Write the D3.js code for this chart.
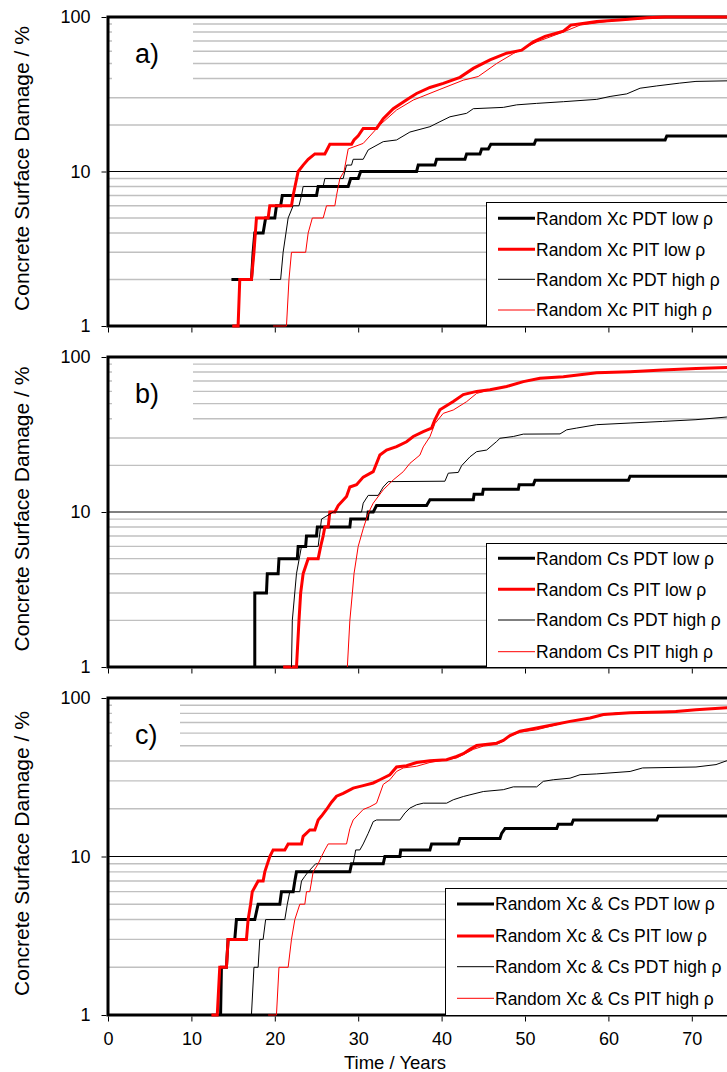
<!DOCTYPE html>
<html>
<head>
<meta charset="utf-8">
<script src="https://cdn.jsdelivr.net/npm/d3@7"></script>
<style>
  html, body { margin: 0; padding: 0; background: #fff; }
  svg { display: block; font-family: "Liberation Sans", Arial, sans-serif; }
</style>
</head>
<body>
<svg id="chart" width="727" height="1072"></svg>
<script>
// ---- Panel a: random cover depth (Xc) ----
const xcPdtLow = [[14.8,2],[17.2,2],[17.4,3],[17.6,4],[18.6,4],[18.9,5],[20.0,5],[20.2,6],[20.7,6],[20.9,7],[25.0,7],[25.2,8],[28.8,8],[29.1,9],[30.0,9],[30.3,10],[37.0,10],[37.2,11],[39.2,11],[39.4,12],[42.8,12],[43.0,13],[44.6,13],[44.8,14],[45.6,14],[45.9,15],[51.1,15],[51.3,16],[66.8,16],[67.0,17],[80,17]];
const xcPitLow = [[14.9,1],[15.6,1],[15.8,2],[17.2,2],[17.5,3],[17.8,5],[19.2,5],[19.4,6],[22.0,6],[22.2,7],[22.8,10],[23.4,11],[24.0,12],[24.8,13],[26.0,13],[26.6,15],[29.2,15],[29.5,16],[30.0,17],[30.6,19],[32.2,19],[33.0,22],[34.2,25.5],[36.0,29.6],[37.0,32],[38.6,35],[40.2,37.2],[42.2,40.7],[43.8,46.5],[45.8,52.7],[47.8,58.3],[49.6,61],[51.0,69],[52.4,75],[54.6,81],[55.5,88.6],[58.6,93.5],[61.3,95.6],[64.6,99],[66.7,100],[80,100]];
const xcPdtHigh = [[19.4,2],[20.7,2],[21.0,3],[21.6,5],[22.2,6],[22.9,6],[23.2,7],[23.4,8],[25.8,8],[26.0,9],[28.2,9],[28.4,10],[28.6,11],[29.2,11],[29.4,12],[30.6,12],[31.2,13.8],[33.0,15.6],[34.6,16],[36.2,18],[38.6,19.5],[39.8,21],[41.0,22.6],[43.0,23.8],[43.8,25.5],[47.4,26],[49.0,27],[51.4,27.6],[54.6,28.3],[58.6,29.3],[60.2,30.6],[62.2,31.8],[63.8,34.6],[65.8,35.8],[68.5,37.3],[70.5,38.3],[74.1,38.6],[80,39]];
const xcPitHigh = [[19.8,1],[21.4,1],[21.7,2],[22.0,3],[23.7,3],[24.0,4],[24.5,5],[25.8,5],[26.2,6],[27.2,6],[27.4,7],[27.8,9],[28.3,10],[28.8,14],[30.6,15.2],[32.6,20],[34.6,25],[36.6,29],[39.8,34],[42.6,39],[44.4,41.2],[46.6,50],[48.6,58],[51.4,69],[54.6,80],[56.6,88.6],[60.6,94.7],[64.6,98],[68.6,100],[80,100]];

// ---- Panel b: random surface chloride (Cs) ----
const csPdtLow = [[17.6,1],[17.6,3],[19.0,3],[19.1,4],[20.4,4],[20.5,5],[22.7,5],[22.8,6],[23.7,6],[23.8,7],[25.0,7],[25.1,8],[29.0,8],[29.1,9],[31.1,9],[31.2,10],[31.8,10],[32.2,11],[38.2,11],[38.6,12],[43.8,12],[43.9,13],[44.9,13],[45.0,14],[49.2,14],[49.3,15],[51.0,15],[51.2,16],[62.4,16],[62.6,17],[80,17]];
const csPitLow = [[21.0,1],[22.6,1],[22.9,2],[23.1,3],[23.4,4],[24.0,5],[25.2,5],[25.5,6],[25.8,7],[26.0,8],[26.4,8],[26.6,10],[27.2,10],[27.6,11],[28.6,12.6],[29.0,14.5],[29.8,15],[30.6,16.8],[31.8,18.2],[32.6,23.3],[33.4,25.1],[34.6,26.4],[35.8,28.4],[36.6,30.7],[37.8,33],[38.8,34.8],[39.2,39.4],[39.8,45.7],[41.4,51.7],[42.6,57.2],[44.2,60],[45.8,61.5],[47.8,64.5],[49.8,69.4],[51.8,72.9],[54.6,74.7],[58.6,79.2],[62.6,80.4],[66.5,82.4],[70.5,84.4],[74.2,85.6],[80,86.5]];
const csPdtHigh = [[22.0,1],[22.1,2],[22.6,4],[23.2,6],[25.2,6],[25.6,9],[27.0,10],[30.4,10],[30.6,11.4],[31.2,12.8],[32.4,12.8],[33.0,14.5],[33.6,15.7],[40.4,15.8],[40.8,17.8],[42.0,18],[42.4,19.9],[43.4,22.7],[44.2,24.5],[45.4,25.1],[46.6,28.5],[47.0,29.9],[48.6,30.7],[49.8,31.8],[54.2,31.9],[55.0,33.9],[56.2,34.8],[58.6,36.6],[62.6,37.5],[66.5,38.4],[70.5,39.4],[74.2,41],[80,42]];
const csPitHigh = [[28.7,1],[29.0,2],[29.3,3],[29.5,4],[30.0,6],[30.6,7.8],[31.2,9.8],[31.8,11.4],[33.0,13.9],[34.2,16.1],[35.4,18.2],[36.2,20.6],[37.4,23.3],[37.8,26.3],[38.6,30.6],[39.2,37.2],[40.2,43.3],[41.4,45.5],[43.0,51.5],[44.2,58.2],[45.8,61.5],[47.8,64.3],[49.8,69.2],[51.8,72.7],[54.6,74.5],[58.6,79],[62.6,80.3],[66.5,82.3],[70.5,84.3],[74.2,85.5],[80,86.4]];

// ---- Panel c: random Xc and Cs together ----
const xcCsPdtLow = [[13.5,1],[13.6,2],[14.2,2],[14.4,3],[15.2,3],[15.4,4],[17.6,4],[18.0,5],[20.6,5],[20.8,6],[22.2,6],[22.4,7],[22.6,8],[29.0,8],[29.2,9],[33.0,9],[33.2,10],[35.0,10],[35.1,11],[38.6,11],[38.8,12],[42.0,12],[42.2,13],[47.0,13],[47.2,14],[47.6,15],[53.8,15],[54.0,16],[55.6,16],[55.8,17],[65.8,17],[66.0,18],[80,18]];
const xcCsPitLow = [[12.4,1],[13.1,1],[13.4,2],[14.2,2],[14.4,3],[16.6,3],[16.8,4],[17.1,5],[17.3,6],[18.0,7],[18.6,7],[18.8,8],[19.4,10],[19.8,11],[21.2,11],[21.6,12],[23.2,12],[23.4,13.4],[24.2,14.7],[24.8,14.7],[25.2,17],[25.6,18],[26.2,19.8],[26.8,22],[27.4,24],[28.2,25],[29.4,27],[30.6,28],[31.8,29.1],[32.6,30.5],[33.8,32.8],[34.6,36.7],[35.8,37.4],[37.0,39.2],[38.6,40.2],[40.6,40.8],[41.8,42.8],[42.6,44.5],[43.4,47.4],[44.2,50.1],[46.6,51.9],[47.4,54],[48.2,58],[49.4,61.7],[51.4,64.6],[53.4,67.8],[55.4,71.2],[57.8,74.8],[59.4,78.6],[62.6,80.6],[66.5,81.5],[68.1,82.1],[70.5,84.3],[74.2,86.9],[80,88]];
const xcCsPdtHigh = [[17.2,1],[17.5,2],[18.0,2],[18.2,3],[18.6,3],[18.9,4],[21.2,4],[21.5,5],[21.8,6],[23.0,6],[23.2,7],[23.6,7.5],[24.0,8],[24.9,9],[29.4,9],[29.7,11],[30.2,11],[30.6,12],[31.2,14],[31.8,16.6],[32.2,17],[35.0,17],[35.6,18.8],[36.2,20.2],[37.0,21.2],[37.8,21.7],[40.6,21.7],[41.4,22.8],[42.6,23.9],[43.4,24.5],[45.0,25.7],[47.4,26.4],[48.6,27.5],[51.4,27.5],[52.2,29.8],[53.4,30.5],[55.4,31.2],[56.6,32.8],[58.6,33.2],[62.6,34.4],[64.1,36.2],[70.5,36.7],[72.9,38],[74.2,40.2],[80,41]];
const xcCsPitHigh = [[19.2,1],[20.2,1],[20.5,2],[21.6,2],[22.0,3],[22.4,4],[23.0,5],[23.6,5],[23.8,6],[24.2,6],[24.6,8],[25.2,9],[25.6,10],[26.0,11],[26.4,12],[28.6,12],[29.0,15],[29.4,17],[30.6,19.8],[31.4,20.6],[32.2,21.7],[33.0,28.5],[33.8,30.5],[34.6,34.4],[35.4,36.2],[37.0,37.1],[38.6,39.2],[40.6,40.8],[41.8,41.8],[42.6,43.9],[43.8,47.4],[45.0,49.7],[46.6,50.9],[47.4,53.4],[48.2,57.4],[49.4,60.9],[51.4,63],[53.0,66.2],[55.4,71.2],[58.6,76.6],[61.0,80.6],[66.5,81.5],[70.5,84.3],[74.2,86.9],[80,88]];

// ---- Legend labels ----
const labelsA = ["Random Xc PDT low ρ", "Random Xc PIT low ρ", "Random Xc PDT high ρ", "Random Xc PIT high ρ"];
const labelsB = ["Random Cs PDT low ρ", "Random Cs PIT low ρ", "Random Cs PDT high ρ", "Random Cs PIT high ρ"];
const labelsC = ["Random Xc & Cs PDT low ρ", "Random Xc & Cs PIT low ρ", "Random Xc & Cs PDT high ρ", "Random Xc & Cs PIT high ρ"];
const panelTags = ["a)", "b)", "c)"];

// ---- Axis ticks ----
const yearTicks = [0, 10, 20, 30, 40, 50, 60, 70];
const damageTicks = [1, 10, 100];
const minorGrid = [2, 3, 4, 5, 6, 7, 8, 9, 20, 30, 40, 50, 60, 70, 80, 90];

// ---- Layout and styling ----
const seriesStyle = [
  { color: "#000000", width: 3 },
  { color: "#ff0000", width: 3 },
  { color: "#000000", width: 1 },
  { color: "#ff0000", width: 1 }
];
const panels = [
  { tag: panelTags[0], top: 17,  bottom: 326,  series: [xcPdtLow, xcPitLow, xcPdtHigh, xcPitHigh], labels: labelsA,
    legendX: 486, legendTop: 202, rows: [218.3, 249.3, 279.3, 310], boxRight: 193, boxBottom: 86, tickLabels: false },
  { tag: panelTags[1], top: 357, bottom: 667,  series: [csPdtLow, csPitLow, csPdtHigh, csPitHigh], labels: labelsB,
    legendX: 486, legendTop: 543, rows: [558.3, 589.3, 620, 651.7], boxRight: 193, boxBottom: 426, tickLabels: false },
  { tag: panelTags[2], top: 698, bottom: 1015, series: [xcCsPdtLow, xcCsPitLow, xcCsPdtHigh, xcCsPitHigh], labels: labelsC,
    legendX: 445, legendTop: 888, rows: [904, 936, 966.7, 998.3], boxRight: 180, boxBottom: 752, tickLabels: true }
];

const svg = d3.select("#chart");
const x = d3.scaleLinear().domain([0, 80]).range([108, 108 + 8.34 * 80]);

panels.forEach((p, pi) => {
  const y = d3.scaleLog().domain([1, 100]).range([p.bottom, p.top]);
  const g = svg.append("g");

  // horizontal grid
  g.selectAll("line.minor").data(minorGrid).join("line")
    .attr("x1", x(0)).attr("x2", x(80))
    .attr("y1", d => y(d)).attr("y2", d => y(d))
    .attr("stroke", "#c0c0c0").attr("stroke-width", 1.4);
  g.append("line")
    .attr("x1", x(0)).attr("x2", x(80))
    .attr("y1", y(10)).attr("y2", y(10))
    .attr("stroke", "#000").attr("stroke-width", 1);

  // panel tag box
  g.append("rect")
    .attr("x", 112).attr("y", p.top + 1)
    .attr("width", p.boxRight - 112).attr("height", p.boxBottom - p.top - 1)
    .attr("fill", "#fff");
  g.append("text")
    .attr("x", 135).attr("y", p.top + 46)
    .attr("font-size", 27).attr("fill", "#000")
    .text(p.tag);

  // axes
  const yAxis = d3.axisLeft(y).tickValues(damageTicks).tickFormat(d3.format("d"))
    .tickSize(5).tickPadding(11);
  const ya = g.append("g").attr("transform", `translate(${x(0) - 1.5},0)`).call(yAxis);
  ya.select(".domain").remove();
  ya.selectAll("text").attr("font-size", 18).attr("fill", "#000")
    .attr("font-family", "Liberation Sans, Arial, sans-serif");
  ya.selectAll("line").attr("stroke", "#000");

  const xAxis = d3.axisBottom(x).tickValues(yearTicks)
    .tickFormat(p.tickLabels ? d3.format("d") : () => "")
    .tickSize(5).tickPadding(11);
  const xa = g.append("g").attr("transform", `translate(0,${p.bottom + 1.5})`).call(xAxis);
  xa.select(".domain").remove();
  xa.selectAll("text").attr("font-size", 18).attr("fill", "#000")
    .attr("font-family", "Liberation Sans, Arial, sans-serif");
  xa.selectAll("line").attr("stroke", "#000");

  // plot frame
  g.append("rect")
    .attr("x", x(0)).attr("y", p.top)
    .attr("width", x(80) - x(0)).attr("height", p.bottom - p.top)
    .attr("fill", "none").attr("stroke", "#000").attr("stroke-width", 3);

  // y axis title
  g.append("text")
    .attr("transform", `translate(28.5,${(p.top + p.bottom) / 2 - 3}) rotate(-90)`)
    .attr("text-anchor", "middle").attr("font-size", 21).attr("fill", "#000")
    .text("Concrete Surface Damage / %");

  // legend box
  const lg = g.append("g");
  lg.append("rect")
    .attr("x", p.legendX + 0.5).attr("y", p.legendTop + 0.5)
    .attr("width", 760 - p.legendX).attr("height", p.bottom - p.legendTop)
    .attr("fill", "#fff").attr("stroke", "#000").attr("stroke-width", 1);
  p.labels.forEach((lab, i) => {
    const st = seriesStyle[i];
    lg.append("line")
      .attr("x1", p.legendX + 12).attr("x2", p.legendX + 49)
      .attr("y1", p.rows[i]).attr("y2", p.rows[i])
      .attr("stroke", st.color).attr("stroke-width", st.width);
    lg.append("text")
      .attr("x", p.legendX + 50).attr("y", p.rows[i] + 6.3)
      .attr("font-size", 17.5).attr("fill", "#000")
      .text(lab);
  });

  // damage curves
  const clipId = "clip" + pi;
  svg.append("clipPath").attr("id", clipId).append("rect")
    .attr("x", x(0)).attr("y", p.top - 3)
    .attr("width", x(80) - x(0)).attr("height", p.bottom - p.top + 6);
  const line = d3.line().x(d => x(d[0])).y(d => y(d[1]));
  const cg = g.append("g").attr("clip-path", `url(#${clipId})`);
  p.series.forEach((s, i) => {
    cg.append("path").datum(s)
      .attr("d", line)
      .attr("fill", "none")
      .attr("stroke", seriesStyle[i].color)
      .attr("stroke-width", seriesStyle[i].width)
      .attr("stroke-linejoin", "miter");
  });

  // legend stays above curves
  lg.raise();
});

// x axis title
svg.append("text")
  .attr("x", 395).attr("y", 1069)
  .attr("text-anchor", "middle").attr("font-size", 18.5).attr("fill", "#000")
  .text("Time / Years");
</script>
</body>
</html>
